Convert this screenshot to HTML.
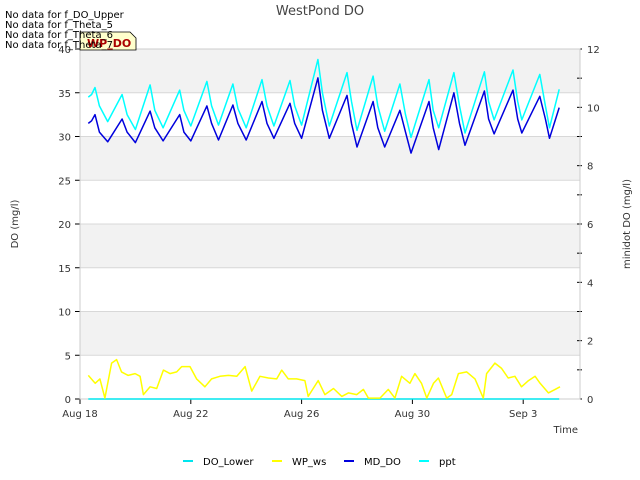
<!DOCTYPE html>
<html><head><meta charset="utf-8"><style>
body{margin:0;background:#fff;font-family:"Liberation Sans","DejaVu Sans",sans-serif}
svg{display:block}
</style></head><body>
<svg id="c" width="640" height="480" xmlns="http://www.w3.org/2000/svg" font-family="DejaVu Sans, Liberation Sans, sans-serif"></svg>
<script>
const xTickLabels=["Aug 18","Aug 22","Aug 26","Aug 30","Sep 3"];
const xTickDays=[0,4,8,12,16];
const yTicks=[0,5,10,15,20,25,30,35,40];
const y2Ticks=[0,2,4,6,8,10,12];
const pptTime=[0.3,0.42,0.54,0.7,1.0,1.52,1.7,2.0,2.53,2.7,3.0,3.6,3.75,4.0,4.58,4.75,5.0,5.52,5.7,6.0,6.57,6.75,7.0,7.58,7.75,8.0,8.59,8.75,9.0,9.64,9.8,10.0,10.58,10.75,11.0,11.55,11.75,11.95,12.6,12.75,12.95,13.5,13.7,13.9,14.6,14.75,14.95,15.63,15.8,15.95,16.6,16.8,16.95,17.3];
const pptVal=[34.5,34.8,35.6,33.5,31.7,34.8,32.5,30.8,35.9,33,31,35.3,33,31.2,36.3,33.5,31.3,36,33.2,31,36.5,33.5,31.2,36.4,33.5,31.3,38.8,35,31.2,37.3,34,30.7,36.9,33.5,30.6,36,32.5,29.9,36.5,33,31,37.3,33.5,30.4,37.4,34,31.9,37.6,34,31.9,37.1,33.5,31,35.4];
const mdTime=[0.3,0.42,0.54,0.7,1.0,1.52,1.7,2.0,2.53,2.7,3.0,3.6,3.75,4.0,4.58,4.75,5.0,5.52,5.7,6.0,6.57,6.75,7.0,7.58,7.75,8.0,8.59,8.75,9.0,9.64,9.8,10.0,10.58,10.75,11.0,11.55,11.75,11.95,12.6,12.75,12.95,13.5,13.7,13.9,14.6,14.75,14.95,15.63,15.8,15.95,16.6,16.8,16.95,17.3];
const mdVal=[31.5,31.8,32.5,30.5,29.4,32,30.5,29.3,32.9,31,29.5,32.5,30.5,29.5,33.5,31.5,29.6,33.6,31.5,29.6,34,31.5,29.8,33.8,31.5,29.8,36.7,33,29.8,34.7,31.5,28.8,34,31,28.8,33,30.5,28.1,34,31,28.5,35,31.5,29,35.2,32,30.3,35.3,32,30.4,34.6,32,29.8,33.3];
const wsTime=[0.3,0.55,0.72,0.9,1.14,1.32,1.5,1.74,1.99,2.17,2.29,2.53,2.77,3.01,3.25,3.49,3.67,3.97,4.21,4.51,4.75,5.05,5.36,5.66,5.96,6.2,6.5,6.8,7.1,7.28,7.52,7.82,8.12,8.24,8.6,8.84,9.15,9.45,9.69,9.99,10.23,10.41,10.83,11.13,11.37,11.61,11.91,12.09,12.33,12.52,12.76,12.94,13.24,13.42,13.66,13.96,14.26,14.56,14.68,14.98,15.22,15.46,15.7,15.94,16.19,16.43,16.61,16.91,17.15,17.33];
const wsVal=[2.7,1.8,2.3,0.1,4.1,4.5,3.1,2.7,2.9,2.6,0.5,1.4,1.2,3.3,2.9,3.1,3.7,3.7,2.3,1.4,2.3,2.6,2.7,2.6,3.7,0.9,2.6,2.4,2.3,3.3,2.3,2.3,2.1,0.3,2.1,0.5,1.2,0.3,0.7,0.5,1.1,0.1,0.1,1.1,0.1,2.6,1.8,2.9,1.8,0.1,1.8,2.4,0.1,0.5,2.9,3.1,2.3,0.1,2.9,4.1,3.5,2.4,2.6,1.4,2.1,2.6,1.8,0.7,1.1,1.4];
const lowerTime=[0.3,17.3];
const lowerVal=[0,0];

const NS="http://www.w3.org/2000/svg";
const svg=document.getElementById('c');
const L=80,R=580,T=49,B=399;
const xs=d=>L+d*27.7;
const ys=v=>B-(v/40)*(B-T);
const ys2=v=>B-(v/12)*(B-T);
function mk(tag,attrs,parent){const e=document.createElementNS(NS,tag);for(const k in attrs)e.setAttribute(k,attrs[k]);(parent||svg).appendChild(e);return e;}

// bands
for(let i=0;i<yTicks.length-1;i++){
  if(i%2===1){
    const b=mk('rect',{x:L,y:ys(yTicks[i+1]),width:R-L,height:ys(yTicks[i])-ys(yTicks[i+1]),fill:'#f2f2f2'});
    
    
  }
}
yTicks.forEach(v=>{
  const g=mk('line',{x1:L,x2:R,y1:ys(v),y2:ys(v),stroke:'#d8d8d8','stroke-width':1});
  
  
  const t=mk('line',{x1:L-5,x2:L,y1:ys(v),y2:ys(v),stroke:'#000'});
  
  
  const l=mk('text',{x:L-9,y:ys(v)+4,'text-anchor':'end','font-size':10,fill:'#333'});
  l.textContent=v;
  
  
});
for(let v=0;v<=12;v++){
  const t=mk('line',{x1:R,x2:R-4+ (v%2?0:-0),y1:ys2(v),y2:ys2(v),stroke:'#000'});
  t.setAttribute('x1',R-3);t.setAttribute('x2',R+2);
  
  
}
y2Ticks.forEach(v=>{
  const l=mk('text',{x:R+7,y:ys2(v)+4,'font-size':10,fill:'#333'});
  l.textContent=v;
  
  
});
xTickDays.forEach((d,i)=>{
  const t=mk('line',{x1:xs(d),x2:xs(d),y1:B,y2:B+5,stroke:'#000'});
  
  
  const l=mk('text',{x:xs(d),y:B+18,'text-anchor':'middle','font-size':10,fill:'#333'});
  l.textContent=xTickLabels[i];
  
  
});
const ax=mk('rect',{x:L,y:T,width:R-L,height:B-T,fill:'none',stroke:'#ccc'});



function series(ts,vs,color,name){
  const p=mk('polyline',{points:ts.map((t,i)=>xs(t).toFixed(1)+','+ys(vs[i]).toFixed(1)).join(' '),fill:'none',stroke:color,'stroke-width':1.5,'stroke-linejoin':'round'});
  
  
}
series(lowerTime,lowerVal,'#00e5ee','do-lower-line');
series(wsTime,wsVal,'#ffff00','wp-ws-line');
series(pptTime,pptVal,'#00ffff','ppt-line');
series(mdTime,mdVal,'#0000dd','md-do-line');

function txt(x,y,s,attrs,name){const e=mk('text',Object.assign({x:x,y:y},attrs));e.textContent=s;return e;}
txt(320,15,'WestPond DO',{'text-anchor':'middle','font-size':13,fill:'#444'},'chart-title');
txt(578,433,'Time',{'text-anchor':'end','font-size':10,fill:'#333'},'x-axis-title');
const yt=txt(0,0,'DO (mg/l)',{'font-size':10,fill:'#333','text-anchor':'middle',transform:'translate(18,224) rotate(-90)'},'y-axis-title');
const y2t=txt(0,0,'minidot DO (mg/l)',{'font-size':10,fill:'#333','text-anchor':'middle',transform:'translate(630,224) rotate(-90)'},'y2-axis-title');

const tip=mk('path',{d:'M80,32 H130 L136,38 V50 H80 Z',fill:'#ffffcc',stroke:'#000','stroke-width':0.8});


txt(87,47,'WP_DO',{'font-size':11,'font-weight':'bold',fill:'#aa0000'},'tooltip-label');
['No data for f_DO_Upper','No data for f_Theta_5','No data for f_Theta_6','No data for f_Theta_7'].forEach((s,i)=>{
  txt(5,18+i*10,s,{'font-size':10,fill:'#000'},'no-data-note');
});

const leg=[['DO_Lower','#00e5ee',183],['WP_ws','#ffff00',272],['MD_DO','#0000dd',344],['ppt','#00ffff',419]];
leg.forEach(([n,c,x])=>{
  const s=mk('line',{x1:x,x2:x+10,y1:461,y2:461,stroke:c,'stroke-width':2});
  
  
  txt(x+20,465,n,{'font-size':10,fill:'#000'},'legend-entry');
});
</script>
</body></html>
